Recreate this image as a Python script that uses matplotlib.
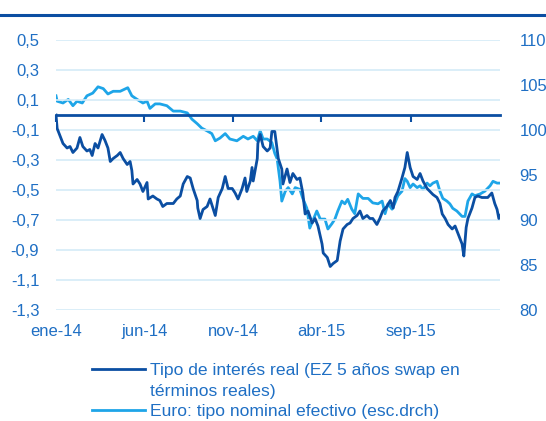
import numpy as np
import pandas as pd
import matplotlib
matplotlib.use('Agg')
import matplotlib.pyplot as plt
from matplotlib.lines import Line2D

# colours
dark = '#0b4ea2'
light = '#1ea5e8'
txt = '#1f6fc4'
grid = '#d4ebf7'

# real interest rate (left axis): day offset from 2014-01-01, value
real_days = [0, 2, 7, 12, 19, 24, 29, 36, 41, 46, 53, 58, 62, 67, 72, 79, 84, 89, 93, 98,
             105, 110, 115, 122, 127, 130, 132, 139, 144, 149, 156, 158, 166, 173, 178, 183,
             190, 201, 207, 213, 218, 225, 230, 235, 242, 243, 247, 252, 259, 264, 269, 273,
             278, 285, 290, 295, 302, 307, 312, 319, 324, 327, 333, 336, 338, 345, 346, 350,
             355, 362, 367, 370, 375, 381, 387, 389, 396, 401, 406, 413, 418, 423, 427, 432,
             439, 444, 449, 456, 458, 465, 470, 475, 482, 487, 492, 499, 504, 509, 516, 521,
             526, 533, 538, 543, 550, 555, 560, 567, 573, 578, 581, 586, 593, 598, 602, 607,
             612, 619, 624, 629, 636, 641, 646, 653, 658, 662, 667, 672, 679, 684, 689, 696,
             699, 703, 706, 713, 718, 723, 730, 735, 740, 747, 752, 756, 759, 763]
real_vals = [0.0, -0.09, -0.14, -0.19, -0.22, -0.21, -0.25, -0.22, -0.15, -0.21, -0.24, -0.23,
             -0.27, -0.19, -0.22, -0.13, -0.17, -0.22, -0.31, -0.29, -0.27, -0.25, -0.29, -0.33,
             -0.31, -0.37, -0.46, -0.43, -0.46, -0.51, -0.45, -0.56, -0.54, -0.56, -0.57, -0.61,
             -0.59, -0.59, -0.56, -0.54, -0.46, -0.41, -0.42, -0.49, -0.57, -0.62, -0.69, -0.63,
             -0.61, -0.56, -0.62, -0.67, -0.55, -0.49, -0.41, -0.49, -0.49, -0.52, -0.56, -0.49,
             -0.42, -0.51, -0.44, -0.35, -0.44, -0.29, -0.19, -0.13, -0.21, -0.24, -0.22, -0.11,
             -0.11, -0.29, -0.36, -0.46, -0.36, -0.45, -0.39, -0.43, -0.42, -0.52, -0.66, -0.64,
             -0.72, -0.69, -0.74, -0.86, -0.92, -0.95, -1.01, -0.99, -0.97, -0.84, -0.76, -0.73,
             -0.72, -0.69, -0.67, -0.64, -0.69, -0.67, -0.69, -0.69, -0.73, -0.69, -0.64, -0.61,
             -0.57, -0.62, -0.55, -0.51, -0.42, -0.35, -0.25, -0.35, -0.41, -0.43, -0.39, -0.44,
             -0.49, -0.51, -0.53, -0.55, -0.59, -0.66, -0.69, -0.73, -0.76, -0.74, -0.79, -0.86,
             -0.94, -0.75, -0.69, -0.62, -0.55, -0.54, -0.55, -0.55, -0.55, -0.52, -0.59, -0.63,
             -0.69, -0.66]

# euro nominal effective exchange rate (right axis)
euro_days = [0, 2, 12, 21, 29, 36, 45, 53, 63, 72, 81, 89, 98, 110, 123, 130, 139, 149, 156,
             161, 170, 178, 190, 201, 213, 225, 233, 242, 250, 259, 267, 273, 281, 290, 298,
             310, 321, 329, 338, 345, 350, 355, 362, 370, 375, 379, 384, 387, 393, 398, 405,
             410, 418, 423, 430, 435, 440, 447, 453, 461, 466, 473, 478, 483, 490, 495, 500,
             507, 512, 518, 526, 535, 543, 552, 559, 564, 569, 576, 581, 586, 593, 598, 602,
             607, 612, 619, 624, 629, 636, 641, 646, 653, 658, 663, 670, 675, 680, 687, 696,
             701, 706, 713, 718, 727, 735, 744, 749, 756, 761]
euro_vals = [103.8, 103.2, 103.0, 103.4, 102.7, 103.2, 103.0, 103.8, 104.1, 104.8, 104.6,
             104.0, 104.3, 104.3, 104.7, 103.8, 103.4, 103.0, 103.2, 102.4, 102.9, 102.9,
             102.7, 102.1, 102.1, 101.9, 101.2, 100.7, 100.2, 99.9, 99.6, 98.8, 99.1, 99.6,
             99.0, 98.8, 99.3, 99.0, 99.3, 98.8, 99.9, 99.0, 99.0, 98.6, 97.4, 96.8, 94.3,
             92.1, 93.2, 93.6, 92.9, 93.6, 93.4, 92.4, 91.3, 89.1, 89.9, 91.0, 90.1, 90.1,
             89.0, 89.6, 90.1, 91.0, 92.1, 91.8, 92.3, 91.2, 90.7, 92.9, 92.4, 92.4, 91.9,
             91.8, 92.1, 90.7, 91.8, 91.2, 91.9, 92.7, 93.2, 94.6, 94.3, 93.6, 94.0, 93.6,
             93.8, 93.4, 94.1, 93.8, 94.1, 94.3, 93.2, 92.4, 92.1, 91.8, 91.3, 91.0, 90.4,
             90.4, 92.1, 92.9, 92.7, 92.9, 93.2, 93.8, 94.3, 94.1, 94.1]

tick_dates = ['2014-01-01', '2014-06-01', '2014-11-01', '2015-04-01', '2015-09-01']
tick_labels = ['ene-14', 'jun-14', 'nov-14', 'abr-15', 'sep-15']
left_ticks = [0.5, 0.3, 0.1, -0.1, -0.3, -0.5, -0.7, -0.9, -1.1, -1.3]
right_ticks = [80, 85, 90, 95, 100, 105, 110]

start = pd.Timestamp('2014-01-01')
real_x = start + pd.to_timedelta(real_days, unit='D')
euro_x = start + pd.to_timedelta(euro_days, unit='D')
ticks_x = pd.to_datetime(tick_dates)

plt.rcParams['font.family'] = ['Liberation Sans', 'DejaVu Sans']

fig = plt.figure(figsize=(5.46, 4.21), dpi=100)
ax = fig.add_axes([56 / 546, 1 - 310 / 421, 444 / 546, 270 / 421])
ax2 = ax.twinx()

for y in left_ticks:
    ax.axhline(y, color=grid, lw=1.2, zorder=0)

ax2.plot(euro_x, euro_vals, color=light, lw=2, zorder=2)
ax.plot(real_x, real_vals, color=dark, lw=2, zorder=3)
ax.set_zorder(ax2.get_zorder() + 1)
ax.patch.set_visible(False)

ax.set_xlim(start, pd.Timestamp('2016-02-01'))
ax.set_ylim(-1.3, 0.5)
ax2.set_ylim(80, 110)

ax.set_yticks(left_ticks)
ax.set_yticklabels([('%.1f' % v).replace('.', ',') for v in left_ticks])
ax2.set_yticks(right_ticks)

for s in ax.spines.values():
    s.set_visible(False)
for s in ax2.spines.values():
    s.set_visible(False)

# axis line at zero with ticks pointing down
ax.spines['bottom'].set_visible(True)
ax.spines['bottom'].set_position(('data', 0))
ax.spines['bottom'].set_color(dark)
ax.spines['bottom'].set_linewidth(2)
ax.spines['bottom'].set_zorder(4)
ax.set_xticks(ticks_x)
ax.tick_params(axis='x', direction='out', length=5, width=1.5, color=dark, labelbottom=False)
ax.tick_params(axis='y', length=0, labelsize=12, labelcolor=txt, pad=12)
ax2.tick_params(axis='y', length=0, labelsize=12, labelcolor=txt, pad=14)

# date labels below the plot
sec = ax.secondary_xaxis('bottom')
sec.set_xticks(ticks_x)
sec.set_xticklabels(tick_labels)
sec.tick_params(length=0, labelsize=12, labelcolor=txt, pad=10)
sec.spines['bottom'].set_visible(False)

# top rule
fig.add_artist(Line2D([0, 1], [1 - 14.5 / 421] * 2, color=dark, lw=2.2, transform=fig.transFigure))

# legend: wrapped first label, handle aligned with its first line
handles = [Line2D([], [], color=dark, lw=2),
           Line2D([], [], color='none', lw=0),
           Line2D([], [], color=light, lw=2)]
labels = ['Tipo de interés real (EZ 5 años swap en',
          'términos reales)',
          'Euro: tipo nominal efectivo (esc.drch)']
leg = fig.legend(handles, labels, loc='upper left', bbox_to_anchor=(92 / 546, 1 - 363 / 421),
                 frameon=False, fontsize=12.6, handlelength=3.0, handletextpad=0.3,
                 labelspacing=0.3, borderaxespad=0, borderpad=0)
for t in leg.get_texts():
    t.set_color(txt)

fig.savefig('out.png', dpi=100)
